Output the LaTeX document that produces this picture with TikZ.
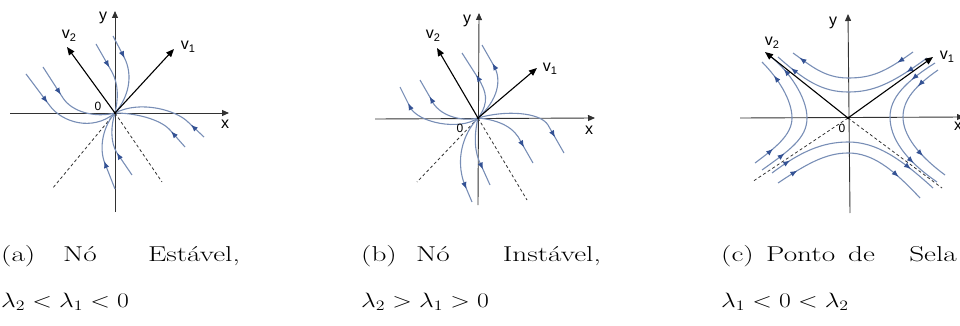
\documentclass[tikz,border=0pt]{standalone}
\usepackage{fontspec}
\usepackage{graphicx}
\newfontfamily\lblfont{Liberation Sans}
\usetikzlibrary{arrows.meta,decorations.markings}
\definecolor{flow}{RGB}{120,142,182}
\definecolor{flowtip}{RGB}{52,82,148}
\definecolor{axisgray}{RGB}{50,50,50}
\newcommand\vsub[1]{\raisebox{-3pt}{\fontsize{11}{11}\selectfont #1}}
\newcommand\cw[1]{\scalebox{1.36}[1]{#1}}
\newcommand\cm[1]{\scalebox{1.24}[1]{#1}}
\tikzset{
  axisline/.style={draw=axisgray, line width=0.9pt, -{Triangle[length=7pt,width=6pt]}},
  eigvec/.style={draw=black, line width=1.1pt, -{Triangle[length=8pt,width=6.5pt]}},
  flowline/.style={draw=flow, line width=1.1pt},
  dashline/.style={draw=axisgray, line width=0.8pt, dash pattern=on 3pt off 2.5pt},
  lbl/.style={font=\lblfont\fontsize{16}{16}\selectfont, inner sep=0pt},
  zerolbl/.style={font=\lblfont\fontsize{12}{12}\selectfont, inner sep=0pt},
  captxt/.style={font=\fontsize{21.5}{24}\selectfont, inner sep=0pt, anchor=base west},
  fa/.style={postaction={decorate, decoration={markings,
      mark=at position #1 with {\arrow{Latex[length=7pt,width=5.5pt,color=flowtip]}}}}},
  fab/.style 2 args={fa=#1, fa=#2},
}
\begin{document}
\begin{tikzpicture}[x=1pt,y=-1pt]
\useasboundingbox (0,0) rectangle (960,326);

% ================= (a) =================
\coordinate (Oa) at (115,113);
\coordinate (xla) at (10,113);
\coordinate (xra) at (229,113);
\coordinate (yba) at (115,212);
\coordinate (yta) at (115,11);
\draw[axisline] (xla) -- (xra);
\draw[axisline] (yba) -- (yta);
\coordinate (da1) at (52,189);
\coordinate (da2) at (162,182);
\draw[dashline] (Oa) -- (da1);
\draw[dashline] (Oa) -- (da2);
\draw[flowline, fa=36pt] (26,74) -- (50,106) .. controls (62,122) and (92,132) .. (Oa);
\draw[flowline, fa=33pt] (43,67) -- (63,98) .. controls (72,112) and (95,118) .. (Oa);
\draw[flowline, fa=27pt] (96,44) -- (112,72) .. controls (119,85) and (118,100) .. (Oa);
\draw[flowline, fa=25pt] (113,36) -- (124,57) .. controls (134,76) and (128,98) .. (Oa);
\draw[flowline, fa=18pt] (204,137) -- (188,122) .. controls (176,110) and (140,100) .. (Oa);
\draw[flowline, fa=21pt] (185,147) -- (170,130) .. controls (160,119) and (135,113) .. (Oa);
\draw[flowline, fa=27pt] (132,175) -- (117,153) .. controls (110,142) and (111,125) .. (Oa);
\draw[flowline, fa=30pt] (115,189) -- (104,161) .. controls (99,145) and (104,125) .. (Oa);
\coordinate (v1a) at (174,49);
\coordinate (v2a) at (67,47);
\draw[eigvec] (Oa) -- (v1a);
\draw[eigvec] (Oa) -- (v2a);
\fill (Oa) circle (1.5pt);
\node[lbl] (ya) at (103,18) {y};
\node[lbl] (xa) at (225,124) {x};
\node[lbl] (lv2a) at (69,36) {v\vsub{2}};
\node[lbl] (lv1a) at (188,47) {v\vsub{1}};
\node[zerolbl] (za) at (98,106) {0};

% ================= (b) =================
\coordinate (Ob) at (478,118);
\coordinate (xlb) at (375,119);
\coordinate (xrb) at (595,118);
\coordinate (ybb) at (478,205);
\coordinate (ytb) at (479,13);
\draw[axisline] (xlb) -- (xrb);
\draw[axisline] (ybb) -- (ytb);
\coordinate (db1) at (417,182);
\coordinate (db2) at (527,200);
\draw[dashline] (Ob) -- (db1);
\draw[dashline] (Ob) -- (db2);
\draw[flowline, fa=-18pt] (Ob) .. controls (460,131) and (418,123) .. (410,107) -- (400,87);
\draw[flowline, fa=-19pt] (Ob) .. controls (462,122) and (438,116) .. (431,99) -- (420,80);
\draw[flowline, fa=-26pt] (Ob) .. controls (490,102) and (486,91) .. (478,78) -- (462,53);
\draw[flowline, fa=-21pt] (Ob) .. controls (498,100) and (502,80) .. (494,66) -- (482,45);
\draw[flowline, fa=-18pt] (Ob) .. controls (505,110) and (540,112) .. (548,125) -- (564,153);
\draw[flowline, fa=-18pt] (Ob) .. controls (500,120) and (515,128) .. (521,142) -- (533,163);
\draw[flowline, fa=-17pt] (Ob) .. controls (474,135) and (474,152) .. (481,165) -- (490,185);
\draw[flowline, fa=-14pt] (Ob) .. controls (462,135) and (456,160) .. (464,183) -- (472,202);
\coordinate (v1b) at (537,68);
\coordinate (v2b) at (437,48);
\draw[eigvec] (Ob) -- (v1b);
\draw[eigvec] (Ob) -- (v2b);
\fill (Ob) circle (1.5pt);
\node[lbl] (yb) at (467,21) {y};
\node[lbl] (xb) at (589,130) {x};
\node[lbl] (lv2b) at (433,36) {v\vsub{2}};
\node[lbl] (lv1b) at (550,69) {v\vsub{1}};
\node[zerolbl] (zb) at (460,128) {0};

% ================= (c) =================
\coordinate (Oc) at (848,118);
\coordinate (xlc) at (740,118);
\coordinate (xrc) at (964,117);
\coordinate (ybc) at (850,213);
\coordinate (ytc) at (848,14);
\draw[axisline] (xlc) -- (xrc);
\draw[axisline] (ybc) -- (ytc);
\coordinate (dc1) at (752,182);
\coordinate (dc2) at (942,188);
\draw[dashline] (Oc) -- (dc1);
\draw[dashline] (Oc) -- (dc2);
\draw[flowline, fab={19pt}{-8pt}] (913,52) .. controls (885,72) and (872,78) .. (848,78) .. controls (824,78) and (810,65) .. (793,53);
\draw[flowline, fab={25pt}{-17pt}] (927,58) .. controls (890,85) and (872,92) .. (848,92) .. controls (822,92) and (804,80) .. (778,57);
\draw[flowline, fab={23pt}{-18pt}] (755,163) .. controls (775,148) and (792,135) .. (792,118) .. controls (792,100) and (778,78) .. (762,62);
\draw[flowline, fab={28pt}{-19pt}] (762,170) .. controls (790,150) and (807,138) .. (807,118) .. controls (807,98) and (790,72) .. (770,56);
\draw[flowline, fab={22pt}{-29pt}] (772,173) .. controls (800,152) and (822,142) .. (848,142) .. controls (876,142) and (900,158) .. (933,188);
\draw[flowline, fab={23pt}{-30pt}] (778,183) .. controls (805,165) and (825,153) .. (848,153) .. controls (872,153) and (892,168) .. (920,198);
\draw[flowline, fab={29pt}{-30pt}] (935,63) .. controls (905,82) and (890,98) .. (890,117) .. controls (890,138) and (905,160) .. (937,182);
\draw[flowline, fab={26pt}{-29pt}] (938,70) .. controls (915,86) and (903,100) .. (903,117) .. controls (903,135) and (918,155) .. (945,175);
\coordinate (v1c) at (933,57);
\coordinate (v2c) at (765,52);
\draw[eigvec] (Oc) -- (v1c);
\draw[eigvec] (Oc) -- (v2c);
\fill (Oc) circle (1.5pt);
\node[lbl] (yc) at (833,23) {y};
\node[lbl] (xc) at (958,126) {x};
\node[lbl] (lv2c) at (772,43) {v\vsub{2}};
\node[lbl] (lv1c) at (947,57) {v\vsub{1}};
\node[zerolbl] (zc) at (842,128) {0};

% ================= captions =================
\node[captxt] (ca1) at (1,261) {\cw{(a)}};
\node[captxt] (ca2) at (63,261) {\cw{Nó}};
\node[captxt, anchor=base east] (ca3) at (240,261) {\cw{Estável,}};
\node[captxt] (ca4) at (1,307) {\cm{$\lambda_2<\lambda_1<0$}};
\node[captxt] (cb1) at (361,261) {\cw{(b)}};
\node[captxt] (cb2) at (416,261) {\cw{Nó}};
\node[captxt, anchor=base east] (cb3) at (601,261) {\cw{Instável,}};
\node[captxt] (cb4) at (361,307) {\cm{$\lambda_2>\lambda_1>0$}};
\node[captxt] (cc1) at (721,261) {\cw{(c)}};
\node[captxt] (cc2) at (766,261) {\cw{Ponto}};
\node[captxt] (cc3) at (848,261) {\cw{de}};
\node[captxt, anchor=base east] (cc4) at (957,261) {\cw{Sela}};
\node[captxt] (cc5) at (721,307) {\cm{$\lambda_1<0<\lambda_2$}};
\end{tikzpicture}
\end{document}
